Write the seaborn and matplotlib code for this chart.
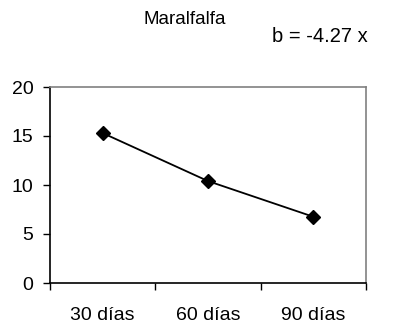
import matplotlib
matplotlib.use("Agg")
import matplotlib.pyplot as plt
from matplotlib.ticker import FixedLocator
import seaborn as sns
import pandas as pd

# Data
categories = ["30 días", "60 días", "90 días"]
values = [15.3, 10.4, 6.76]
title = "Maralfalfa"
equation = "b = -4.27 x"

df = pd.DataFrame({"periodo": categories, "valor": values})

sns.set_theme(style="white")
plt.rcParams["font.family"] = ["Liberation Sans", "DejaVu Sans"]

fig = plt.figure(figsize=(3.99, 3.27), dpi=100)
ax = fig.add_axes([50 / 399, 1 - 283 / 327, 316 / 399, 196 / 327])

sns.pointplot(data=df, x="periodo", y="valor", ax=ax, color="black",
              markers="D", linestyles="-", errorbar=None,
              markersize=7.5, linewidth=1.3)

ax.set_xlim(-0.5, len(categories) - 0.5)
ax.set_ylim(0, 20)
ax.set_yticks([0, 5, 10, 15, 20])
ax.set_xlabel("")
ax.set_ylabel("")

# tick marks sit between categories, labels at category centres
ax.xaxis.set_minor_locator(FixedLocator([i - 0.5 for i in range(len(categories) + 1)]))
ax.tick_params(axis="x", which="major", length=0, pad=17, labelsize=14, colors="black")
ax.tick_params(axis="x", which="minor", bottom=True, length=5, width=1, color="black", direction="out")
ax.tick_params(axis="y", which="major", left=True, length=5, width=1, color="black",
               direction="out", labelsize=14, pad=7, labelcolor="black")

for side in ["left", "bottom"]:
    ax.spines[side].set_color("black")
    ax.spines[side].set_linewidth(1.2)
for side in ["top", "right"]:
    ax.spines[side].set_color("#808080")
    ax.spines[side].set_linewidth(1.2)
    ax.spines[side].set_visible(True)

fig.text(185 / 399, 1 - 19 / 327, title, ha="center", va="center", fontsize=13.5, color="black")
fig.text(272 / 399, 1 - 37 / 327, equation, ha="left", va="center", fontsize=14.5, color="black")

fig.savefig("out.png", dpi=100)
